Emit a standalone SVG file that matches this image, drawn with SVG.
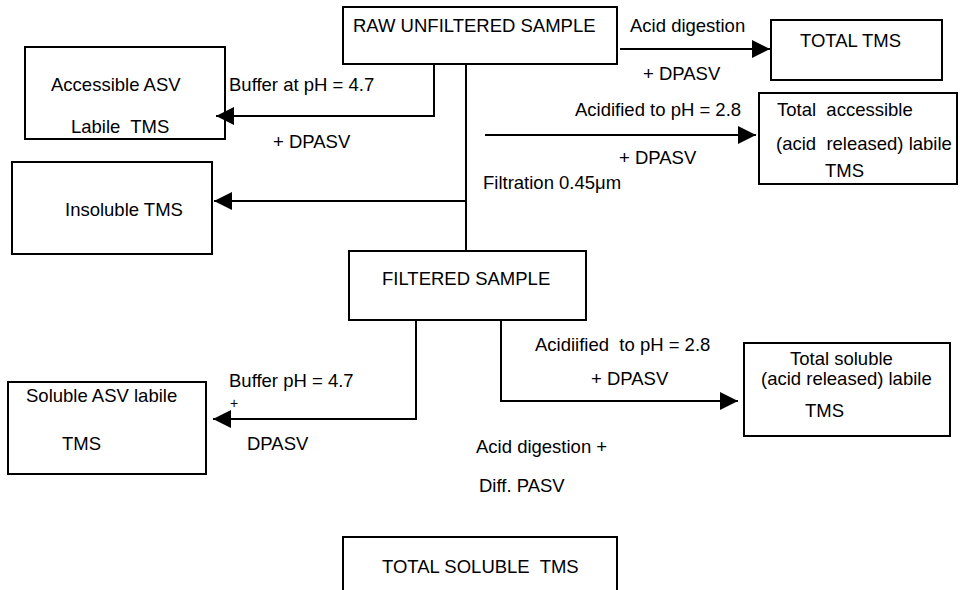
<svg xmlns="http://www.w3.org/2000/svg" width="960" height="590" viewBox="0 0 960 590">
<style>
.box{fill:#fff;stroke:#000;stroke-width:2}
.ln{fill:none;stroke:#000;stroke-width:2}
text{font-family:"Liberation Sans",Arial,sans-serif;font-size:18.5px;fill:#000;white-space:pre}
</style>
<defs>
<marker id="ah" markerUnits="userSpaceOnUse" markerWidth="20" markerHeight="18" refX="18" refY="9" orient="auto">
<path d="M0,0 L18,9 L0,18 Z" fill="#000"/>
</marker>
</defs>
<rect width="960" height="590" fill="#fff"/>
<g id="connectors">
<polyline class="ln" points="434,64 434,116 216,116" marker-end="url(#ah)"/>
<polyline class="ln" points="466,64 466,201 214,201" marker-end="url(#ah)"/>
<line class="ln" x1="466" y1="201" x2="466" y2="251"/>
<line class="ln" x1="620" y1="49" x2="770" y2="49" marker-end="url(#ah)"/>
<line class="ln" x1="485" y1="135" x2="756" y2="135" marker-end="url(#ah)"/>
<polyline class="ln" points="416,320 416,419 213,419" marker-end="url(#ah)"/>
<polyline class="ln" points="501,320 501,401 738,401" marker-end="url(#ah)"/>
<g id="labels">
<text x="229" y="91">Buffer at pH = 4.7</text>
<text x="273" y="148">+ DPASV</text>
<text x="630" y="32">Acid digestion</text>
<text x="643" y="80">+ DPASV</text>
<text x="575" y="116">Acidified to pH = 2.8</text>
<text x="619" y="164">+ DPASV</text>
<text x="483" y="189">Filtration 0.45μm</text>
<text x="229" y="387">Buffer pH = 4.7</text>
<text x="230" y="408" style="font-size:14px">+</text>
<text x="247" y="450">DPASV</text>
<text x="535" y="351">Acidiified  to pH = 2.8</text>
<text x="591" y="385">+ DPASV</text>
<text x="476" y="453">Acid digestion +</text>
<text x="479" y="492">Diff. PASV</text>
</g>
</g>
<g id="raw">
<rect class="box" x="343" y="7" width="274" height="57"/>
<text x="353" y="32">RAW UNFILTERED SAMPLE</text>
</g>
<g id="total-tms">
<rect class="box" x="771" y="20" width="171" height="60"/>
<text x="800" y="47">TOTAL TMS</text>
</g>
<g id="accessible-asv">
<rect class="box" x="25" y="47" width="200" height="92" style="fill:none"/>
<text x="51" y="91">Accessible ASV</text>
<text x="71" y="133">Labile  TMS</text>
</g>
<g id="total-accessible">
<rect class="box" x="759" y="93" width="198" height="91"/>
<text x="777" y="116">Total  accessible</text>
<text x="776" y="150">(acid  released) labile</text>
<text x="825" y="177">TMS</text>
</g>
<g id="insoluble">
<rect class="box" x="12" y="162" width="200" height="92"/>
<text x="65" y="216">Insoluble TMS</text>
</g>
<g id="filtered">
<rect class="box" x="349" y="251" width="237" height="69"/>
<text x="382" y="285">FILTERED SAMPLE</text>
</g>
<g id="soluble-asv">
<rect class="box" x="8" y="382" width="198" height="92"/>
<text x="26" y="402">Soluble ASV labile</text>
<text x="62" y="450">TMS</text>
</g>
<g id="total-soluble-labile">
<rect class="box" x="744" y="343" width="206" height="93"/>
<text x="790" y="365">Total soluble</text>
<text x="761" y="385">(acid released) labile</text>
<text x="805" y="417">TMS</text>
</g>
<g id="total-soluble">
<rect class="box" x="343" y="537" width="274" height="70"/>
<text x="382" y="573">TOTAL SOLUBLE  TMS</text>
</g>
</svg>
